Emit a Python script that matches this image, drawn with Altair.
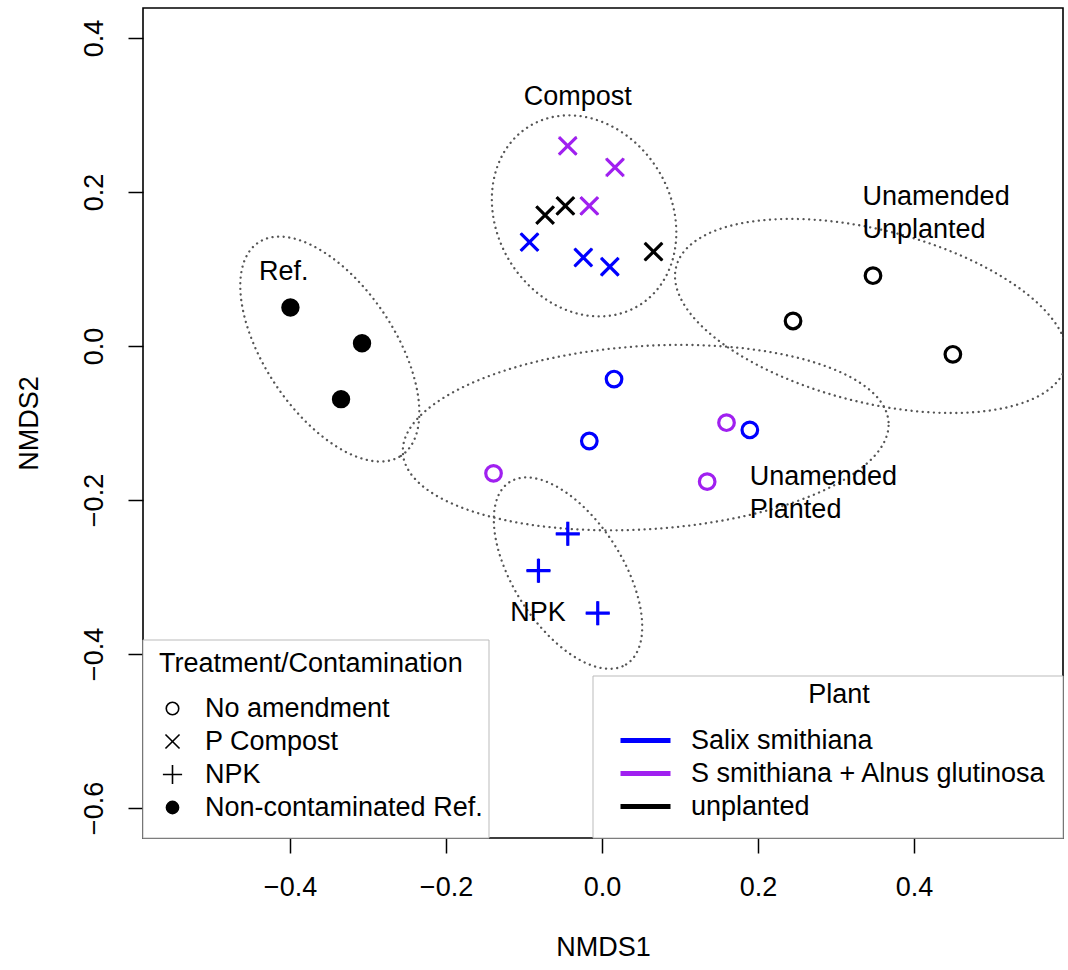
import altair as alt
import numpy as np
import pandas as pd

# ---------------- data ----------------
nmds1 = [-0.3995, -0.3077, -0.3346,                       # Ref
         -0.044, 0.0166, -0.0163,                          # compost, S+A
         -0.073, -0.047, 0.066,                            # compost, unplanted
         -0.093, -0.024, 0.010,                            # compost, Salix
         0.2449, 0.3474, 0.4498,                           # no amend, unplanted
         0.0154, -0.0163, 0.1895,                          # no amend, Salix
         0.1596, 0.1348, -0.1391,                          # no amend, S+A
         -0.0439, -0.0815, -0.0055]                        # NPK, Salix
nmds2 = [0.050, 0.0035, -0.069,
         0.260, 0.232, 0.182,
         0.170, 0.182, 0.1225,
         0.135, 0.115, 0.103,
         0.0325, 0.0913, -0.0108,
         -0.0429, -0.1234, -0.109,
         -0.0996, -0.1762, -0.1654,
         -0.244, -0.2918, -0.347]
treatment = (["Non-contaminated Ref."] * 3 + ["P Compost"] * 9 +
             ["No amendment"] * 9 + ["NPK"] * 3)
plant = (["unplanted"] * 3 +
         ["S smithiana + Alnus glutinosa"] * 3 + ["unplanted"] * 3 + ["Salix smithiana"] * 3 +
         ["unplanted"] * 3 + ["Salix smithiana"] * 3 + ["S smithiana + Alnus glutinosa"] * 3 +
         ["Salix smithiana"] * 3)

treat_levels = ["No amendment", "P Compost", "NPK", "Non-contaminated Ref."]
treat_fill = ["transparent", "transparent", "transparent", "black"]
plant_levels = ["Salix smithiana", "S smithiana + Alnus glutinosa", "unplanted"]
plant_colors = ["#0000FF", "#A020F0", "#000000"]

# ellipse parameters (centre, semi-axes, rotation in degrees)
ell_name = ["Ref", "Compost", "NPK", "Planted", "Unplanted"]
ell_cx = [-0.349, -0.023, -0.0436, 0.056, 0.345]
ell_cy = [-0.004, 0.169, -0.295, -0.119, 0.039]
ell_a = [0.166, 0.136, 0.140, 0.312, 0.258]
ell_b = [0.0835, 0.112, 0.070, 0.119, 0.112]
ell_ang = [-56.7, -60.5, -57.9, 3.7, -14.4]

# group labels
lab_text = ["Compost", "Ref.", "NPK", "Unamended", "Unplanted", "Unamended", "Planted"]
lab_x = [-0.031, -0.408, -0.082, 0.334, 0.334, 0.1895, 0.1895]
lab_y = [0.323, 0.096, -0.347, 0.1935, 0.1506, -0.170, -0.213]
lab_align = ["center", "center", "center", "left", "left", "left", "left"]

x_ticks = [-0.4, -0.2, 0.0, 0.2, 0.4]
y_ticks = [-0.6, -0.4, -0.2, 0.0, 0.2, 0.4]

# ---------------- tables ----------------
pts = pd.DataFrame({"NMDS1": nmds1, "NMDS2": nmds2,
                    "treatment": treatment, "plant": plant})

rows = []
phi = np.linspace(0, 2 * np.pi, 181)
for n, cx, cy, a, b, ang in zip(ell_name, ell_cx, ell_cy, ell_a, ell_b, ell_ang):
    t = np.deg2rad(ang)
    xs = cx + a * np.cos(phi) * np.cos(t) - b * np.sin(phi) * np.sin(t)
    ys = cy + a * np.cos(phi) * np.sin(t) + b * np.sin(phi) * np.cos(t)
    for i, (xx, yy) in enumerate(zip(xs, ys)):
        rows.append({"group": n, "i": i, "NMDS1": xx, "NMDS2": yy})
ell = pd.DataFrame(rows)

labs = pd.DataFrame({"text": lab_text, "NMDS1": lab_x, "NMDS2": lab_y, "align": lab_align})

FONT = "Liberation Sans"
FS = 27
xdom = [-0.5885, 0.591]
ydom = [-0.639, 0.439]


def circ(r):
    return f"M{r},0A{r},{r},0,1,1,{-r},0A{r},{r},0,1,1,{r},0Z"


SHAPES = [circ(0.78), "M-0.88,-0.88L0.88,0.88M0.88,-0.88L-0.88,0.88",
          "M-1.2,0L1.2,0M0,-1.2L0,1.2", circ(0.76)]

xenc = alt.X("NMDS1:Q", scale=alt.Scale(domain=xdom, nice=False, zero=False),
             axis=alt.Axis(values=x_ticks, format=".1f", tickSize=15, tickColor="black",
                           tickWidth=1.5, domain=False, grid=False, labelFontSize=FS,
                           labelFont=FONT, labelColor="black", labelPadding=21,
                           title="NMDS1", titleFont=FONT, titleFontSize=FS,
                           titleFontWeight="normal", titleColor="black", titlePadding=34))
yenc = alt.Y("NMDS2:Q", scale=alt.Scale(domain=ydom, nice=False, zero=False),
             axis=alt.Axis(values=y_ticks, format=".1f", tickSize=15, tickColor="black",
                           tickWidth=1.5, domain=False, grid=False, labelFontSize=FS,
                           labelFont=FONT, labelColor="black", labelPadding=20,
                           labelAngle=-90, labelAlign="center", labelBaseline="bottom",
                           title="NMDS2", titleFont=FONT, titleFontSize=FS,
                           titleFontWeight="normal", titleColor="black", titlePadding=37))

one = pd.DataFrame({"k": [0]})

frame = alt.Chart(one).mark_rect(fill="transparent", stroke="black", strokeWidth=1.6).encode(
    x=alt.value(0), x2=alt.value(920), y=alt.value(0), y2=alt.value(830))

ellipses = alt.Chart(ell).mark_line(clip=True, strokeDash=[0.1, 5.5], strokeCap="round",
                                    strokeWidth=2.3, color="#555555").encode(
    x=xenc, y=yenc, detail="group:N", order="i:Q")

treat_legend = alt.Legend(orient="none", legendX=16, legendY=643,
                          title="Treatment/Contamination", titleFont=FONT, titleFontSize=FS,
                          titleFontWeight="normal", titleColor="black", titleAnchor="start",
                          titleLimit=600, titlePadding=17, labelFont=FONT, labelFontSize=FS,
                          labelColor="black", labelOffset=19, labelLimit=600, symbolSize=256,
                          symbolStrokeWidth=1.6, rowPadding=5, padding=0)
plant_legend = alt.Legend(orient="none", legendX=489, legendY=674, title="Plant",
                          titleFont=FONT, titleFontSize=FS, titleFontWeight="normal",
                          titleColor="black", titleAnchor="middle", titlePadding=18,
                          labelFont=FONT, labelFontSize=FS, labelColor="black",
                          labelOffset=32, labelLimit=600, symbolType="M-2.5,0L2.5,0",
                          symbolSize=400, symbolStrokeWidth=5, rowPadding=5, padding=0)

# hidden layer (black, thin, underneath the coloured points) that carries the treatment legend
legend_pts = alt.Chart(pts).mark_point(stroke="black", strokeWidth=1, size=400, opacity=1).encode(
    x=xenc, y=yenc,
    shape=alt.Shape("treatment:N", scale=alt.Scale(domain=treat_levels, range=SHAPES),
                    legend=treat_legend),
    fill=alt.Fill("treatment:N", scale=alt.Scale(domain=treat_levels, range=treat_fill),
                  legend=treat_legend),
)

point_layers = []
for lvl, shp, fl in zip(treat_levels, SHAPES, treat_fill):
    point_layers.append(
        alt.Chart(pts[pts["treatment"] == lvl]).mark_point(
            shape=shp, fill=fl, strokeWidth=3.2, size=400, opacity=1).encode(
            x=xenc, y=yenc,
            stroke=alt.Stroke("plant:N", scale=alt.Scale(domain=plant_levels,
                                                         range=plant_colors),
                              legend=plant_legend)))

texts_c = alt.Chart(labs[labs["align"] == "center"]).mark_text(
    font=FONT, fontSize=FS, color="black", baseline="middle", align="center").encode(
    x=xenc, y=yenc, text="text:N")
texts_l = alt.Chart(labs[labs["align"] == "left"]).mark_text(
    font=FONT, fontSize=FS, color="black", baseline="middle", align="left").encode(
    x=xenc, y=yenc, text="text:N")

box_left = alt.Chart(one).mark_rect(fill="white", stroke="#bbbbbb", strokeWidth=1).encode(
    x=alt.value(0), x2=alt.value(346), y=alt.value(632), y2=alt.value(830))
box_right = alt.Chart(one).mark_rect(fill="white", stroke="#bbbbbb", strokeWidth=1).encode(
    x=alt.value(450), x2=alt.value(920), y=alt.value(668), y2=alt.value(830))

chart = alt.layer(frame, ellipses, legend_pts, *point_layers, texts_c, texts_l,
                  box_left, box_right).properties(
    width=920, height=830,
    autosize=alt.AutoSizeParams(type="none"),
    padding={"left": 143, "top": 8, "right": 5, "bottom": 132},
    background="white",
).configure_view(stroke="transparent")

chart.save("out.html", embed_options={"renderer": "svg", "actions": False})
